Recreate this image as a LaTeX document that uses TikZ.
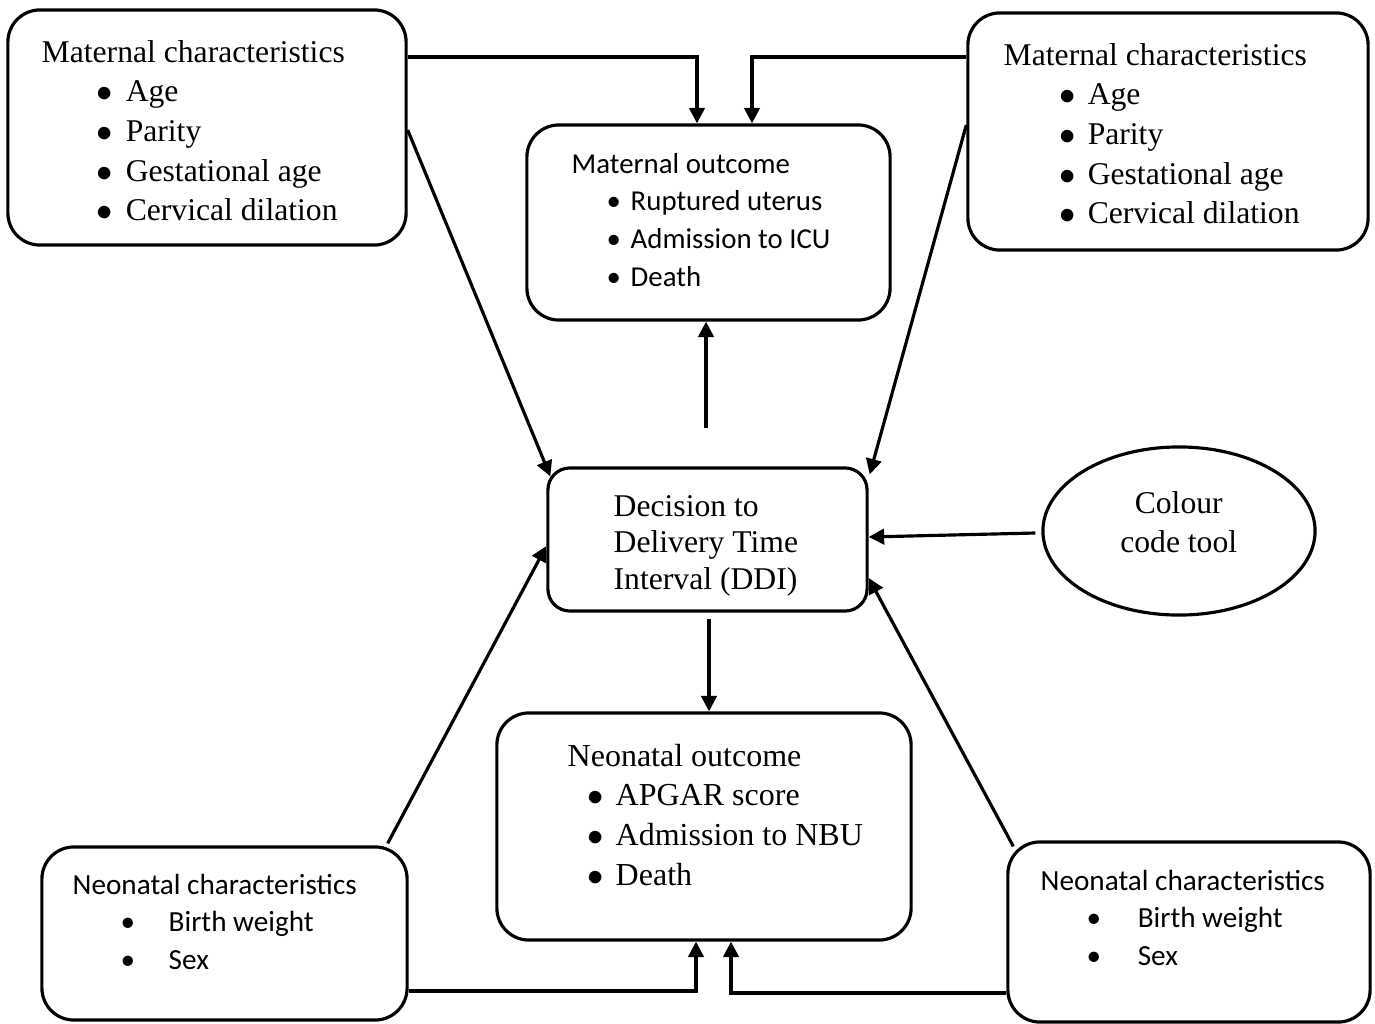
\documentclass[tikz,border=0pt]{standalone}
\usepackage{fontspec}
\setmainfont{Liberation Serif}
\newfontfamily\calibri{Carlito}
\usetikzlibrary{arrows.meta,shapes.geometric}
% bullet lines: indent, width of the bullet slot, text
\newcommand{\itm}[3]{\hspace*{#1}\makebox[#2][l]{\textbullet}#3}
\newcommand{\itmm}[3]{\hspace*{#1}\makebox[#2][l]{$\bullet$}#3}
\tikzset{
  box/.style={draw, line width=0.9pt, rounded corners=3.2mm, inner sep=0pt},
  txt/.style={anchor=base west, inner sep=0pt},
  arr/.style={-{Triangle[length=4.4pt,width=4.4pt]}, line width=0.9pt},
}

\begin{document}
\begin{tikzpicture}[x=0.01cm, y=-0.01cm]
  \useasboundingbox (0,0) rectangle (1375,1024);
  % outline of the blocks
  \node[box, minimum width=3.98cm, minimum height=2.35cm] (mc1) at (207,127.5) {};
  \node[box, minimum width=4.00cm, minimum height=2.37cm] (mc2) at (1168,131.5) {};
  \node[box, minimum width=3.63cm, minimum height=1.95cm] (mo) at (708.5,222.5) {};
  \node[box, rounded corners=2.2mm, minimum width=3.19cm, minimum height=1.43cm] (ddi) at (707.5,539.5) {};
  \node[draw, ellipse, line width=0.9pt, inner sep=0pt, minimum width=2.72cm, minimum height=1.68cm] (cct) at (1179,531) {};
  \node[box, minimum width=4.14cm, minimum height=2.27cm] (no) at (704,826.5) {};
  \node[box, minimum width=3.65cm, minimum height=1.73cm] (nc1) at (224.5,933.5) {};
  \node[box, minimum width=3.62cm, minimum height=1.80cm] (nc2) at (1189,932) {};

  % texts (first baseline at the given point)
  \node[txt] (mc1t) at (41,62) {\parbox[t]{4cm}{\fontsize{9}{11.3}\selectfont
    Maternal characteristics\\
    \itmm{5.5mm}{2.9mm}{Age}\\
    \itmm{5.5mm}{2.9mm}{Parity}\\
    \itmm{5.5mm}{2.9mm}{Gestational age}\\
    \itmm{5.5mm}{2.9mm}{Cervical dilation}}};
  \node[txt] (mc2t) at (1003,65) {\parbox[t]{4cm}{\fontsize{9}{11.3}\selectfont
    Maternal characteristics\\
    \itmm{5.6mm}{2.8mm}{Age}\\
    \itmm{5.6mm}{2.8mm}{Parity}\\
    \itmm{5.6mm}{2.8mm}{Gestational age}\\
    \itmm{5.6mm}{2.8mm}{Cervical dilation}}};
  \node[txt] (mot) at (571,173) {\parbox[t]{3.5cm}{\calibri\fontsize{8.2}{10.8}\selectfont
    Maternal outcome\\
    \itm{3.5mm}{2.4mm}{Ruptured uterus}\\
    \itm{3.5mm}{2.4mm}{Admission to ICU}\\
    \itm{3.5mm}{2.4mm}{Death}}};
  \node[txt] (ddit) at (613,516) {\parbox[t]{2.5cm}{\fontsize{9}{10.5}\selectfont
    Decision to\\
    Delivery Time\\
    Interval (DDI)}};
  \node[txt] (cctt) at (1103,513) {\parbox[t]{1.5cm}{\centering\fontsize{9}{11.1}\selectfont
    Colour\\
    code tool}};
  \node[txt] (not) at (567,766) {\parbox[t]{3.5cm}{\fontsize{9.1}{11.3}\selectfont
    Neonatal outcome\\
    \itmm{2.0mm}{2.8mm}{APGAR score}\\
    \itmm{2.0mm}{2.8mm}{Admission to NBU}\\
    \itmm{2.0mm}{2.8mm}{Death}}};
  \node[txt] (nc1t) at (72,894) {\parbox[t]{3.4cm}{\calibri\fontsize{8.3}{10.8}\selectfont
    Neonatal characteristics\\
    \itm{4.8mm}{4.8mm}{Birth weight}\\
    \itm{4.8mm}{4.8mm}{Sex}}};
  \node[txt] (nc2t) at (1040,890) {\parbox[t]{3.4cm}{\calibri\fontsize{8.3}{10.8}\selectfont
    Neonatal characteristics\\
    \itm{4.6mm}{5.1mm}{Birth weight}\\
    \itm{4.6mm}{5.1mm}{Sex}}};

  % free ends of the two short vertical arrows
  \coordinate (upstart) at (706,428);
  \coordinate (downstart) at (709,619);

  % connectors
  \draw[arr] (mc1.east |- 0,57) -| (697,0 |- mo.north);
  \draw[arr] (mc2.west |- 0,57) -| (752,0 |- mo.north);
  \draw[arr] (mc1.east |- 0,130) -- ([shift={(4,10)}]ddi.north west);
  \draw[arr] (mc2.west |- 0,125) -- ([shift={(1,8)}]ddi.north east);
  \draw[arr] (upstart) -- (mo.south -| upstart);
  \draw[arr] (downstart) -- (no.north -| downstart);
  \draw[arr] ([shift={(-6,0)}]cct.west |- 0,533) -- (ddi.east |- 0,537);
  \draw[arr] ([shift={(-21,-2)}]nc1.north east) -- (ddi.west |- 0,546);
  \draw[arr] ([shift={(7,6)}]nc2.north west) -- (ddi.east |- 0,578);
  \draw[arr] (nc1.east |- 0,991) -| (696,0 |- no.south);
  \draw[arr] (nc2.west |- 0,993) -| (731,0 |- no.south);
\end{tikzpicture}
\end{document}
